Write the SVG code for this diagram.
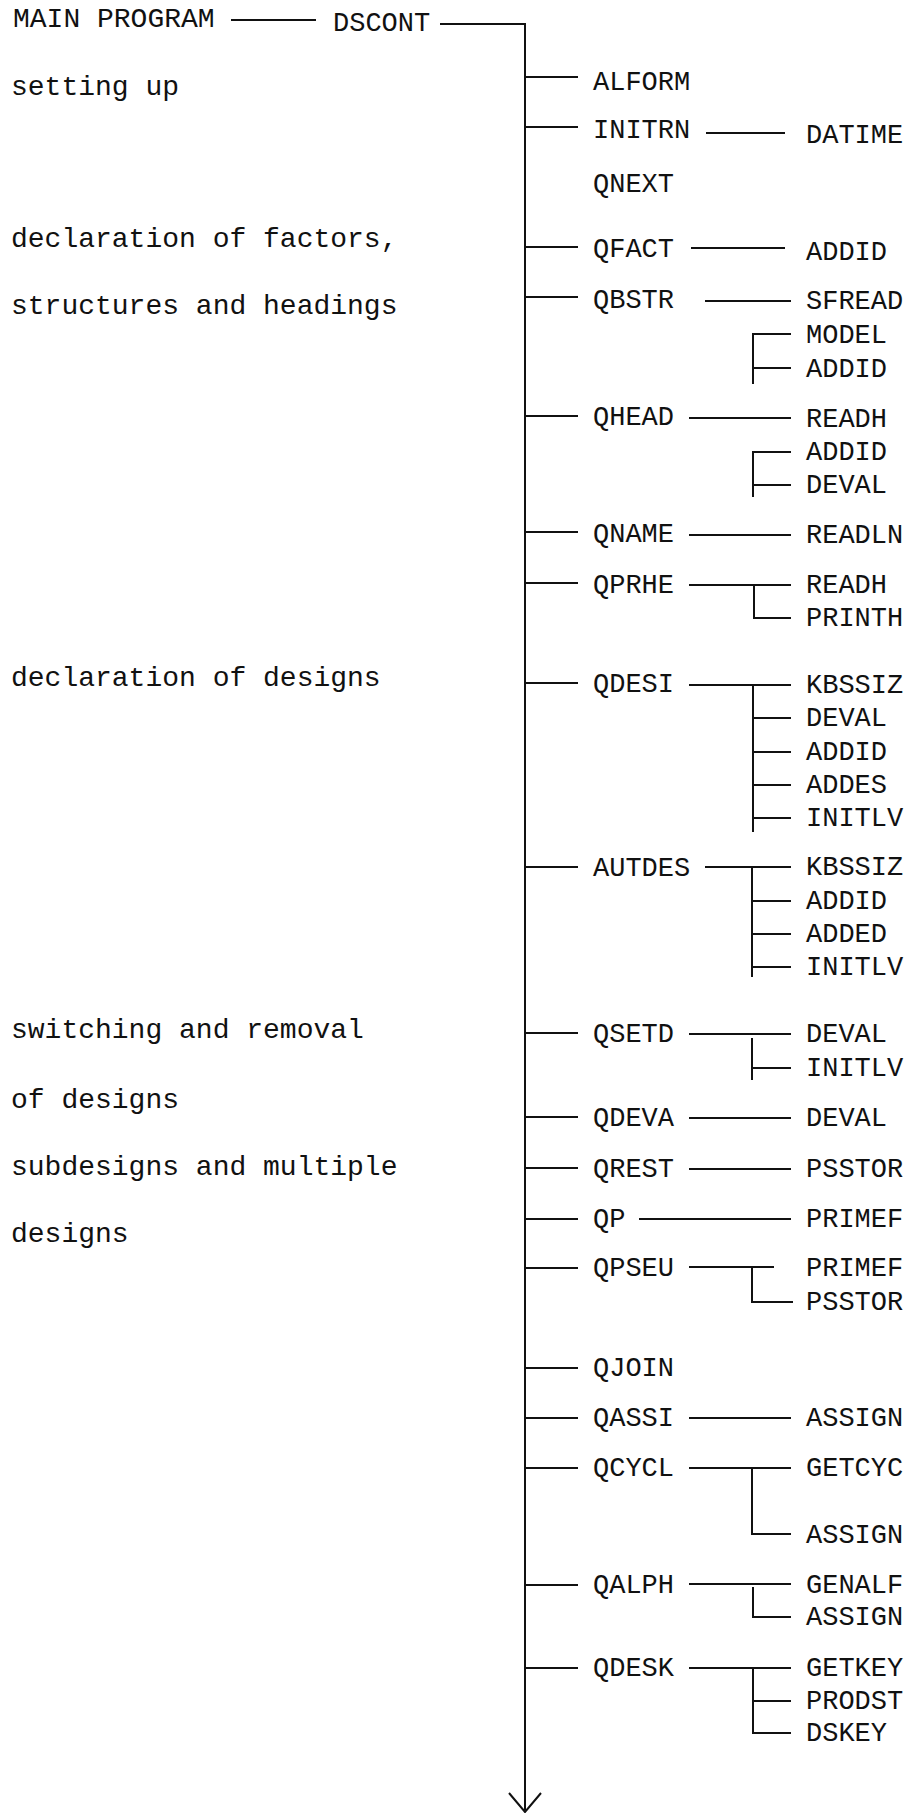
<svg xmlns="http://www.w3.org/2000/svg" width="907" height="1813" viewBox="0 0 907 1813">
<style>
text{font-family:"Liberation Mono","Courier New",monospace;fill:#111;}
.n{font-size:27px;}
.l{font-size:28px;}
#connectors line,#connectors polyline{stroke:#111;stroke-width:2;fill:none;}
</style>
<rect width="907" height="1813" fill="#fff"/>
<g id="labels">
<text class="l" x="11" y="95">setting up</text>
<text class="l" x="11" y="247">declaration of factors,</text>
<text class="l" x="11" y="314">structures and headings</text>
<text class="l" x="11" y="686">declaration of designs</text>
<text class="l" x="11" y="1038">switching and removal</text>
<text class="l" x="11" y="1108">of designs</text>
<text class="l" x="11" y="1175">subdesigns and multiple</text>
<text class="l" x="11" y="1242">designs</text>
</g>
<g id="connectors">
<line x1="231" y1="20" x2="316" y2="20"/>
<polyline points="440,24 525,24 525,1810"/>
<polyline points="509,1793 525,1812 541,1793"/>
<line x1="525" y1="77" x2="578" y2="77"/>
<line x1="525" y1="127" x2="578" y2="127"/>
<line x1="706" y1="133" x2="785" y2="133"/>
<line x1="525" y1="247" x2="578" y2="247"/>
<line x1="691" y1="248" x2="785" y2="248"/>
<line x1="525" y1="297" x2="578" y2="297"/>
<line x1="705" y1="301" x2="791" y2="301"/>
<polyline points="791,334 753,334 753,384"/>
<line x1="753" y1="368" x2="791" y2="368"/>
<line x1="525" y1="416" x2="578" y2="416"/>
<line x1="689" y1="418" x2="791" y2="418"/>
<polyline points="791,452 753,452 753,497"/>
<line x1="753" y1="485" x2="791" y2="485"/>
<line x1="525" y1="532" x2="578" y2="532"/>
<line x1="689" y1="535" x2="791" y2="535"/>
<line x1="525" y1="583" x2="578" y2="583"/>
<line x1="689" y1="585" x2="791" y2="585"/>
<polyline points="754,585 754,618 791,618"/>
<line x1="525" y1="683" x2="578" y2="683"/>
<line x1="689" y1="685" x2="791" y2="685"/>
<line x1="753" y1="685" x2="753" y2="832"/>
<line x1="753" y1="718" x2="791" y2="718"/>
<line x1="753" y1="752" x2="791" y2="752"/>
<line x1="753" y1="785" x2="791" y2="785"/>
<line x1="753" y1="818" x2="791" y2="818"/>
<line x1="525" y1="867" x2="578" y2="867"/>
<line x1="705" y1="867" x2="791" y2="867"/>
<line x1="752" y1="867" x2="752" y2="977"/>
<line x1="752" y1="901" x2="791" y2="901"/>
<line x1="752" y1="934" x2="791" y2="934"/>
<line x1="752" y1="967" x2="791" y2="967"/>
<line x1="525" y1="1033" x2="578" y2="1033"/>
<line x1="689" y1="1034" x2="791" y2="1034"/>
<line x1="752" y1="1038" x2="752" y2="1080"/>
<line x1="752" y1="1068" x2="791" y2="1068"/>
<line x1="525" y1="1117" x2="578" y2="1117"/>
<line x1="689" y1="1118" x2="791" y2="1118"/>
<line x1="525" y1="1168" x2="578" y2="1168"/>
<line x1="689" y1="1169" x2="791" y2="1169"/>
<line x1="525" y1="1219" x2="578" y2="1219"/>
<line x1="639" y1="1219" x2="791" y2="1219"/>
<line x1="525" y1="1268" x2="578" y2="1268"/>
<line x1="689" y1="1267" x2="774" y2="1267"/>
<polyline points="752,1267 752,1302 793,1302"/>
<line x1="525" y1="1368" x2="578" y2="1368"/>
<line x1="525" y1="1418" x2="578" y2="1418"/>
<line x1="689" y1="1418" x2="791" y2="1418"/>
<line x1="525" y1="1468" x2="578" y2="1468"/>
<line x1="689" y1="1468" x2="791" y2="1468"/>
<polyline points="752,1468 752,1534 791,1534"/>
<line x1="525" y1="1585" x2="578" y2="1585"/>
<line x1="689" y1="1584" x2="791" y2="1584"/>
<polyline points="753,1587 753,1617 791,1617"/>
<line x1="525" y1="1668" x2="578" y2="1668"/>
<line x1="689" y1="1668" x2="791" y2="1668"/>
<polyline points="753,1668 753,1733 791,1733"/>
<line x1="753" y1="1701" x2="791" y2="1701"/>
</g>
<g id="n-main"><text class="l" x="13" y="27">MAIN PROGRAM</text></g>
<g id="n-dscont"><text class="n" x="333" y="31">DSCONT</text></g>
<g id="n-alform"><text class="n" x="593" y="90">ALFORM</text></g>
<g id="n-initrn"><text class="n" x="593" y="138">INITRN</text></g>
<g id="n-datime"><text class="n" x="806" y="143">DATIME</text></g>
<g id="n-qnext"><text class="n" x="593" y="192">QNEXT</text></g>
<g id="n-qfact"><text class="n" x="593" y="257">QFACT</text></g>
<g id="n-qfact-addid"><text class="n" x="806" y="260">ADDID</text></g>
<g id="n-qbstr"><text class="n" x="593" y="308">QBSTR</text></g>
<g id="n-qbstr-sfread"><text class="n" x="806" y="309">SFREAD</text></g>
<g id="n-qbstr-model"><text class="n" x="806" y="343">MODEL</text></g>
<g id="n-qbstr-addid"><text class="n" x="806" y="377">ADDID</text></g>
<g id="n-qhead"><text class="n" x="593" y="425">QHEAD</text></g>
<g id="n-qhead-readh"><text class="n" x="806" y="427">READH</text></g>
<g id="n-qhead-addid"><text class="n" x="806" y="460">ADDID</text></g>
<g id="n-qhead-deval"><text class="n" x="806" y="493">DEVAL</text></g>
<g id="n-qname"><text class="n" x="593" y="542">QNAME</text></g>
<g id="n-qname-readln"><text class="n" x="806" y="543">READLN</text></g>
<g id="n-qprhe"><text class="n" x="593" y="593">QPRHE</text></g>
<g id="n-qprhe-readh"><text class="n" x="806" y="593">READH</text></g>
<g id="n-qprhe-printh"><text class="n" x="806" y="626">PRINTH</text></g>
<g id="n-qdesi"><text class="n" x="593" y="692">QDESI</text></g>
<g id="n-qdesi-kbssiz"><text class="n" x="806" y="693">KBSSIZ</text></g>
<g id="n-qdesi-deval"><text class="n" x="806" y="726">DEVAL</text></g>
<g id="n-qdesi-addid"><text class="n" x="806" y="760">ADDID</text></g>
<g id="n-qdesi-addes"><text class="n" x="806" y="793">ADDES</text></g>
<g id="n-qdesi-initlv"><text class="n" x="806" y="826">INITLV</text></g>
<g id="n-autdes"><text class="n" x="593" y="876">AUTDES</text></g>
<g id="n-autdes-kbssiz"><text class="n" x="806" y="875">KBSSIZ</text></g>
<g id="n-autdes-addid"><text class="n" x="806" y="909">ADDID</text></g>
<g id="n-autdes-added"><text class="n" x="806" y="942">ADDED</text></g>
<g id="n-autdes-initlv"><text class="n" x="806" y="975">INITLV</text></g>
<g id="n-qsetd"><text class="n" x="593" y="1042">QSETD</text></g>
<g id="n-qsetd-deval"><text class="n" x="806" y="1042">DEVAL</text></g>
<g id="n-qsetd-initlv"><text class="n" x="806" y="1076">INITLV</text></g>
<g id="n-qdeva"><text class="n" x="593" y="1126">QDEVA</text></g>
<g id="n-qdeva-deval"><text class="n" x="806" y="1126">DEVAL</text></g>
<g id="n-qrest"><text class="n" x="593" y="1177">QREST</text></g>
<g id="n-qrest-psstor"><text class="n" x="806" y="1177">PSSTOR</text></g>
<g id="n-qp"><text class="n" x="593" y="1227">QP</text></g>
<g id="n-qp-primef"><text class="n" x="806" y="1227">PRIMEF</text></g>
<g id="n-qpseu"><text class="n" x="593" y="1276">QPSEU</text></g>
<g id="n-qpseu-primef"><text class="n" x="806" y="1276">PRIMEF</text></g>
<g id="n-qpseu-psstor"><text class="n" x="806" y="1310">PSSTOR</text></g>
<g id="n-qjoin"><text class="n" x="593" y="1376">QJOIN</text></g>
<g id="n-qassi"><text class="n" x="593" y="1426">QASSI</text></g>
<g id="n-qassi-assign"><text class="n" x="806" y="1426">ASSIGN</text></g>
<g id="n-qcycl"><text class="n" x="593" y="1476">QCYCL</text></g>
<g id="n-qcycl-getcyc"><text class="n" x="806" y="1476">GETCYC</text></g>
<g id="n-qcycl-assign"><text class="n" x="806" y="1543">ASSIGN</text></g>
<g id="n-qalph"><text class="n" x="593" y="1593">QALPH</text></g>
<g id="n-qalph-genalf"><text class="n" x="806" y="1593">GENALF</text></g>
<g id="n-qalph-assign"><text class="n" x="806" y="1625">ASSIGN</text></g>
<g id="n-qdesk"><text class="n" x="593" y="1676">QDESK</text></g>
<g id="n-qdesk-getkey"><text class="n" x="806" y="1676">GETKEY</text></g>
<g id="n-qdesk-prodst"><text class="n" x="806" y="1709">PRODST</text></g>
<g id="n-qdesk-dskey"><text class="n" x="806" y="1741">DSKEY</text></g>
</svg>
